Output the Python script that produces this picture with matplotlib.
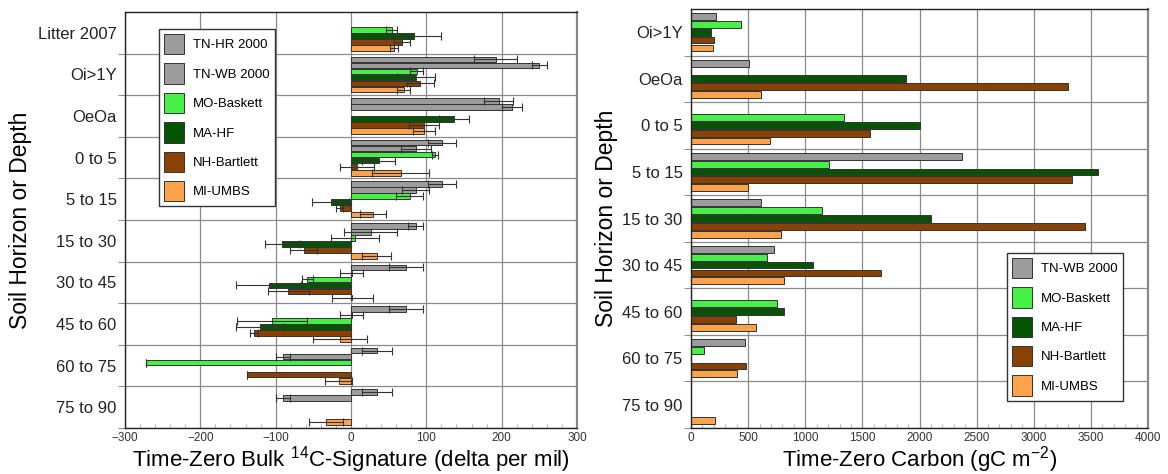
import matplotlib
matplotlib.use("Agg")
import matplotlib.pyplot as plt
import numpy as np

plt.rcParams['font.family'] = ['Liberation Sans', 'DejaVu Sans']
plt.rcParams['mathtext.fontset'] = 'custom'
plt.rcParams['mathtext.rm'] = 'Liberation Sans'
plt.rcParams['mathtext.it'] = 'Liberation Sans:italic'

nan = np.nan

# left panel: bulk 14C signature (delta per mil) with errors
depths_c14 = ["Litter 2007", "Oi>1Y", "OeOa", "0 to 5", "5 to 15", "15 to 30",
              "30 to 45", "45 to 60", "60 to 75", "75 to 90"]
tn_hr = [nan, 192, 196, 121, 121, 86, 73, 73, 35, 35]
tn_hr_err = [nan, 29, 19, 19, 19, 10, 23, 23, 20, 20]
tn_wb = [nan, 250, 214, 86, 86, 26, 1, 1, -90, -90]
tn_wb_err = [nan, 10, 13, 20, 18, 35, 15, 15, 9, 9]
mo = [54, 87, nan, 112, 78, 5, -58, -105, -272, nan]
mo_err = [7, 8, nan, 4, 18, 32, 7, 46, 0, nan]
ma = [83, 86, 137, 37, -27, -91, -109, -121, nan, nan]
ma_err = [36, 25, 20, 22, 25, 23, 43, 31, nan, nan]
nh = [68, 92, 97, 8, -15, -63, -83, -129, -138, nan]
nh_err = [11, 18, 20, 23, 5, 18, 27, 5, 0, nan]
mi = [57, 70, 97, 66, 29, 34, 2, -15, -16, -33]
mi_err = [5, 9, 15, 38, 17, 19, 27, 36, 18, 23]

# right panel: time-zero carbon stocks (gC m-2)
depths_c = ["Oi>1Y", "OeOa", "0 to 5", "5 to 15", "15 to 30", "30 to 45",
            "45 to 60", "60 to 75", "75 to 90"]
tn_wb_c = [216, 510, nan, 2371, 610, 726, nan, 470, nan]
mo_c = [435, nan, 1336, 1210, 1143, 662, 750, 117, nan]
ma_c = [175, 1884, 2001, 3558, 2097, 1070, 811, nan, nan]
nh_c = [199, 3301, 1566, 3336, 3447, 1660, 391, 478, nan]
mi_c = [192, 615, 689, 499, 785, 811, 569, 405, 207]

GRAY = '#9c9c9c'
LGREEN = '#46f046'
DGREEN = '#045404'
BROWN = '#8a4204'
ORANGE = '#ffa24c'


def style_axes(ax, ncat, xlim, xstep, xminor):
    ax.set_xlim(*xlim)
    ax.set_ylim(ncat - 0.5, -0.5)
    ax.set_xticks(np.arange(xlim[0], xlim[1] + 1, xstep))
    ax.set_xticks(np.arange(xlim[0], xlim[1] + 1, xminor), minor=True)
    ax.set_yticks(np.arange(ncat) + 0.5, minor=True)
    ax.set_axisbelow(True)
    ax.grid(True, axis='x', which='major', color='#8a8a8a', lw=0.9)
    ax.grid(True, axis='y', which='minor', color='#8a8a8a', lw=0.9)
    ax.tick_params(axis='y', which='major', length=0, labelsize=12, pad=6, colors='#222')
    ax.tick_params(axis='y', which='minor', length=5, direction='out', color='#777')
    ax.tick_params(axis='x', which='major', length=0, labelsize=8.5, pad=3, colors='#333')
    ax.tick_params(axis='x', which='minor', length=3, direction='in', color='#aaa')
    for s in ['left', 'top', 'bottom']:
        ax.spines[s].set_color('#222')
        ax.spines[s].set_linewidth(1.0)
    ax.spines['right'].set_color('#888')
    ax.spines['right'].set_linewidth(1.6)


def add_legend(ax, box):
    ax.legend(loc='upper left', bbox_to_anchor=box, mode='expand', fontsize=9.5,
              handlelength=1.5, handleheight=2.0, labelspacing=0.68,
              handletextpad=0.7, borderpad=0.38, borderaxespad=0,
              fancybox=False, framealpha=1, edgecolor='#333')


fig = plt.figure(figsize=(11.68, 4.74), dpi=100)

# ---- left: 14C ----
ax1 = fig.add_axes([0.1070, 0.0970, 0.3870, 0.8776])
series1 = [("TN-HR 2000", tn_hr, tn_hr_err, GRAY),
           ("TN-WB 2000", tn_wb, tn_wb_err, GRAY),
           ("MO-Baskett", mo, mo_err, LGREEN),
           ("MA-HF", ma, ma_err, DGREEN),
           ("NH-Bartlett", nh, nh_err, BROWN),
           ("MI-UMBS", mi, mi_err, ORANGE)]
y1 = np.arange(len(depths_c14))
slot1 = 0.145
for i, (name, vals, errs, col) in enumerate(series1):
    vals = np.array(vals, dtype=float)
    errs = np.array(errs, dtype=float)
    ok = ~np.isnan(vals)
    ypos = y1 + (i - 2.5) * slot1
    ax1.barh(ypos[ok], vals[ok], height=0.135, color=col, edgecolor='#333',
             linewidth=0.7, label=name, zorder=2)
    ax1.errorbar(vals[ok], ypos[ok], xerr=errs[ok], fmt='none', ecolor='#333',
                 elinewidth=0.8, capsize=3, capthick=0.8, zorder=3)
ax1.set_yticks(y1)
ax1.set_yticklabels(depths_c14)
style_axes(ax1, len(depths_c14), (-300, 300), 100, 20)
ax1.set_xlabel("Time-Zero Bulk $^{14}$C-Signature (delta per mil)", fontsize=16, labelpad=0)
ax1.set_ylabel("Soil Horizon or Depth", fontsize=16.5, labelpad=4)
add_legend(ax1, (0.0752, 0.543, 0.2566, 0.416))

# ---- right: carbon stocks ----
ax2 = fig.add_axes([0.5916, 0.0970, 0.3913, 0.8840])
series2 = [("TN-WB 2000", tn_wb_c, GRAY),
           ("MO-Baskett", mo_c, LGREEN),
           ("MA-HF", ma_c, DGREEN),
           ("NH-Bartlett", nh_c, BROWN),
           ("MI-UMBS", mi_c, ORANGE)]
y2 = np.arange(len(depths_c))
slot2 = 0.168
for i, (name, vals, col) in enumerate(series2):
    vals = np.array(vals, dtype=float)
    ok = ~np.isnan(vals)
    ypos = y2 + (i - 2) * slot2
    ax2.barh(ypos[ok], vals[ok], height=0.145, color=col, edgecolor='#333',
             linewidth=0.7, label=name, zorder=2)
ax2.set_yticks(y2)
ax2.set_yticklabels(depths_c)
style_axes(ax2, len(depths_c), (0, 4000), 500, 100)
ax2.set_xlabel("Time-Zero Carbon (gC m$^{-2}$)", fontsize=16, labelpad=0)
ax2.set_ylabel("Soil Horizon or Depth", fontsize=16.5, labelpad=3)
add_legend(ax2, (0.6915, 0.069, 0.2538, 0.3487))

fig.savefig("out.png", dpi=100)
